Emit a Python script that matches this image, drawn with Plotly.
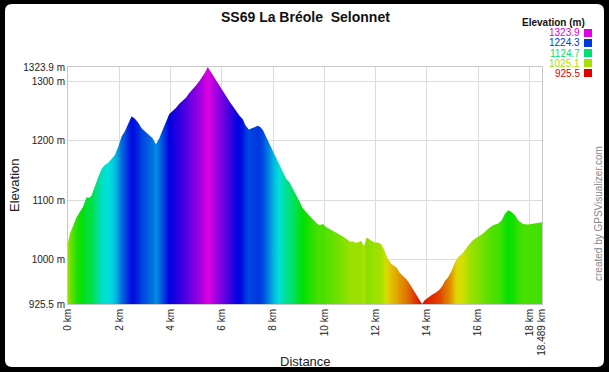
import colorsys
import plotly.graph_objects as go

# ---------------- data ----------------
distance_km = [
    0.00, 0.07, 0.20, 0.33, 0.46, 0.59, 0.72, 0.83, 0.92, 1.05,
    1.18, 1.31, 1.44, 1.57, 1.70, 1.83, 1.96, 2.09, 2.22, 2.35,
    2.48, 2.61, 2.74, 2.87, 3.00, 3.13, 3.30, 3.43, 3.56, 3.69,
    3.82, 3.95, 4.08, 4.21, 4.34, 4.47, 4.60, 4.73, 4.86, 4.99,
    5.12, 5.25, 5.35, 5.45, 5.55, 5.64, 5.77, 5.91, 6.04, 6.17,
    6.30, 6.43, 6.56, 6.69, 6.82, 6.92, 7.05, 7.15, 7.25, 7.40,
    7.50, 7.60, 7.73, 7.86, 7.99, 8.12, 8.25, 8.38, 8.51, 8.64,
    8.77, 8.90, 9.03, 9.16, 9.29, 9.42, 9.55, 9.68, 9.81, 9.94,
    10.07, 10.20, 10.33, 10.46, 10.59, 10.72, 10.86, 11.00, 11.10, 11.18,
    11.31, 11.44, 11.52, 11.57, 11.64, 11.70, 11.83, 11.96, 12.09, 12.22,
    12.35, 12.48, 12.61, 12.74, 12.83, 12.94, 13.07, 13.20, 13.33, 13.46,
    13.59, 13.72, 13.81, 13.91, 14.05, 14.20, 14.35, 14.50, 14.62, 14.70,
    14.82, 14.96, 15.09, 15.21, 15.41, 15.61, 15.80, 16.00, 16.19, 16.39,
    16.58, 16.78, 16.91, 17.04, 17.17, 17.30, 17.43, 17.56, 17.75, 17.95,
    18.14, 18.34, 18.489,
]
elevation_m = [
    1029, 1043, 1057, 1071, 1080, 1089, 1105, 1104, 1108, 1125,
    1139, 1153, 1159, 1163, 1169, 1176, 1190, 1207, 1216, 1230,
    1241, 1237, 1230, 1221, 1216, 1210, 1204, 1194, 1204, 1218,
    1230, 1245, 1250, 1255, 1262, 1267, 1272, 1280, 1286, 1293,
    1300, 1308, 1315, 1323.9, 1317, 1310, 1302, 1292, 1284, 1275,
    1266, 1258, 1249, 1242, 1236, 1226, 1219, 1220, 1222, 1225,
    1223, 1218, 1206, 1195, 1182, 1172, 1160, 1148, 1136, 1130,
    1120, 1108, 1098, 1086, 1079, 1074, 1068, 1062, 1058, 1060,
    1055, 1052, 1049, 1046, 1043, 1039, 1035, 1030, 1031, 1029,
    1029, 1032, 1024, 1025, 1037, 1036, 1032, 1029, 1029, 1026,
    1015, 1001, 993, 988, 986, 978, 973, 967, 959, 950,
    942, 933, 925.5, 932, 937, 941, 945, 950, 957, 964,
    970, 981, 995, 1004, 1012, 1024, 1033, 1038, 1044, 1052,
    1058, 1061, 1066, 1077, 1083, 1080, 1075, 1066, 1060, 1059,
    1060, 1062, 1063,
]

y_tick_values = [925.5, 1000, 1100, 1200, 1300, 1323.9]
y_tick_labels = ["925.5 m", "1000 m", "1100 m", "1200 m", "1300 m", "1323.9 m"]
x_tick_values = [0, 2, 4, 6, 8, 10, 12, 14, 16, 18, 18.489]
x_tick_labels = ["0 km", "2 km", "4 km", "6 km", "8 km", "10 km", "12 km",
                 "14 km", "16 km", "18 km", "18.489 km"]
legend_values = [1323.9, 1224.3, 1124.7, 1025.1, 925.5]

TITLE = "SS69 La Bréole \u00a0Selonnet"
E_MIN, E_MAX = 925.5, 1323.9

# ---------------- layout geometry (pixels) ----------------
W, H = 609, 372
PL, PR, PT, PB = 68, 542, 67, 304


def px(xp):
    return (xp - PL) / (PR - PL)


def py(yp):
    return (PB - yp) / (PB - PT)


def elev_color(e):
    h = (e - E_MIN) / (E_MAX - E_MIN) * 300.0 / 360.0
    r, g, b = colorsys.hsv_to_rgb(h, 1.0, 0.88)
    return f"rgb({round(r*255)},{round(g*255)},{round(b*255)})"


x0, x1 = distance_km[0], distance_km[-1]
colorscale = [[(d - x0) / (x1 - x0), elev_color(e)] for d, e in zip(distance_km, elevation_m)]
colorscale[0][0] = 0.0
colorscale[-1][0] = 1.0

fig = go.Figure()
fig.add_trace(go.Scatter(
    x=distance_km, y=elevation_m, mode="lines",
    line=dict(width=0, color="rgba(0,0,0,0)"),
    fill="tozeroy",
    fillgradient=dict(type="horizontal", colorscale=colorscale),
    hoverinfo="skip", showlegend=False,
))

FONT = "Liberation Sans, Arial, sans-serif"

shapes = []
# white rounded panel on black background
L, R, T, B, rad = 5, 604, 4, 367, 7
path = (f"M {px(L+rad)},{py(T)} L {px(R-rad)},{py(T)} Q {px(R)},{py(T)} {px(R)},{py(T+rad)} "
        f"L {px(R)},{py(B-rad)} Q {px(R)},{py(B)} {px(R-rad)},{py(B)} "
        f"L {px(L+rad)},{py(B)} Q {px(L)},{py(B)} {px(L)},{py(B-rad)} "
        f"L {px(L)},{py(T+rad)} Q {px(L)},{py(T)} {px(L+rad)},{py(T)} Z")
shapes.append(dict(type="path", xref="paper", yref="paper", path=path,
                   fillcolor="white", line=dict(width=0), layer="below"))

annotations = []
annotations.append(dict(text="<b>Elevation (m)</b>", xref="paper", yref="paper",
                        x=px(587), y=py(22), xanchor="right", yanchor="middle",
                        showarrow=False, font=dict(family=FONT, size=10, color="#111")))
row_y0, row_dy = 33, 10
for i, v in enumerate(legend_values):
    yc = row_y0 + i * row_dy
    col = elev_color(v)
    annotations.append(dict(text=f"{v:.1f}", xref="paper", yref="paper",
                            x=px(582), y=py(yc), xanchor="right", yanchor="middle",
                            showarrow=False, font=dict(family=FONT, size=10, color=col)))
    shapes.append(dict(type="rect", xref="paper", yref="paper",
                       x0=px(584), x1=px(592), y0=py(yc - 4), y1=py(yc + 4),
                       fillcolor=col, line=dict(width=0)))

annotations.append(dict(text="Elevation", xref="paper", yref="paper",
                        x=px(14), y=py(186), textangle=-90, xanchor="center", yanchor="middle",
                        showarrow=False, font=dict(family=FONT, size=13, color="#222")))
annotations.append(dict(text="Distance", xref="paper", yref="paper",
                        x=px(305), y=py(361), xanchor="center", yanchor="middle",
                        showarrow=False, font=dict(family=FONT, size=13, color="#222")))
annotations.append(dict(text="created by GPSVisualizer.com", xref="paper", yref="paper",
                        x=px(598), y=py(214), textangle=-90, xanchor="center", yanchor="middle",
                        showarrow=False, font=dict(family=FONT, size=10, color="#888")))
annotations.append(dict(text=f"<b>{TITLE}</b>", xref="paper", yref="paper",
                        x=px(305), y=py(17), xanchor="center", yanchor="middle",
                        showarrow=False, font=dict(family=FONT, size=14, color="#111")))

fig.update_layout(
    width=W, height=H,
    margin=dict(l=PL, r=W - PR, t=PT, b=H - PB, pad=0),
    paper_bgcolor="black", plot_bgcolor="white",
    showlegend=False,
    shapes=shapes, annotations=annotations,
    font=dict(family=FONT, size=10, color="#222"),
)
fig.update_xaxes(range=[x0, x1], tickvals=x_tick_values, ticktext=x_tick_labels,
                 tickangle=-90, showgrid=True, gridcolor="#dcdcdc", gridwidth=1,
                 showline=True, linecolor="#c8c8c8", linewidth=1, mirror=True,
                 zeroline=False, ticks="", tickfont=dict(family=FONT, size=10, color="#222"))
fig.update_yaxes(range=[E_MIN, E_MAX], tickvals=y_tick_values, ticktext=y_tick_labels,
                 showgrid=True, gridcolor="#dcdcdc", gridwidth=1,
                 showline=True, linecolor="#c8c8c8", linewidth=1, mirror=True,
                 zeroline=False, ticks="", tickfont=dict(family=FONT, size=10, color="#222"))

fig.write_html("out.html", config={"displayModeBar": False},
               post_script="document.body.style.margin='0';document.body.style.background='black';")
